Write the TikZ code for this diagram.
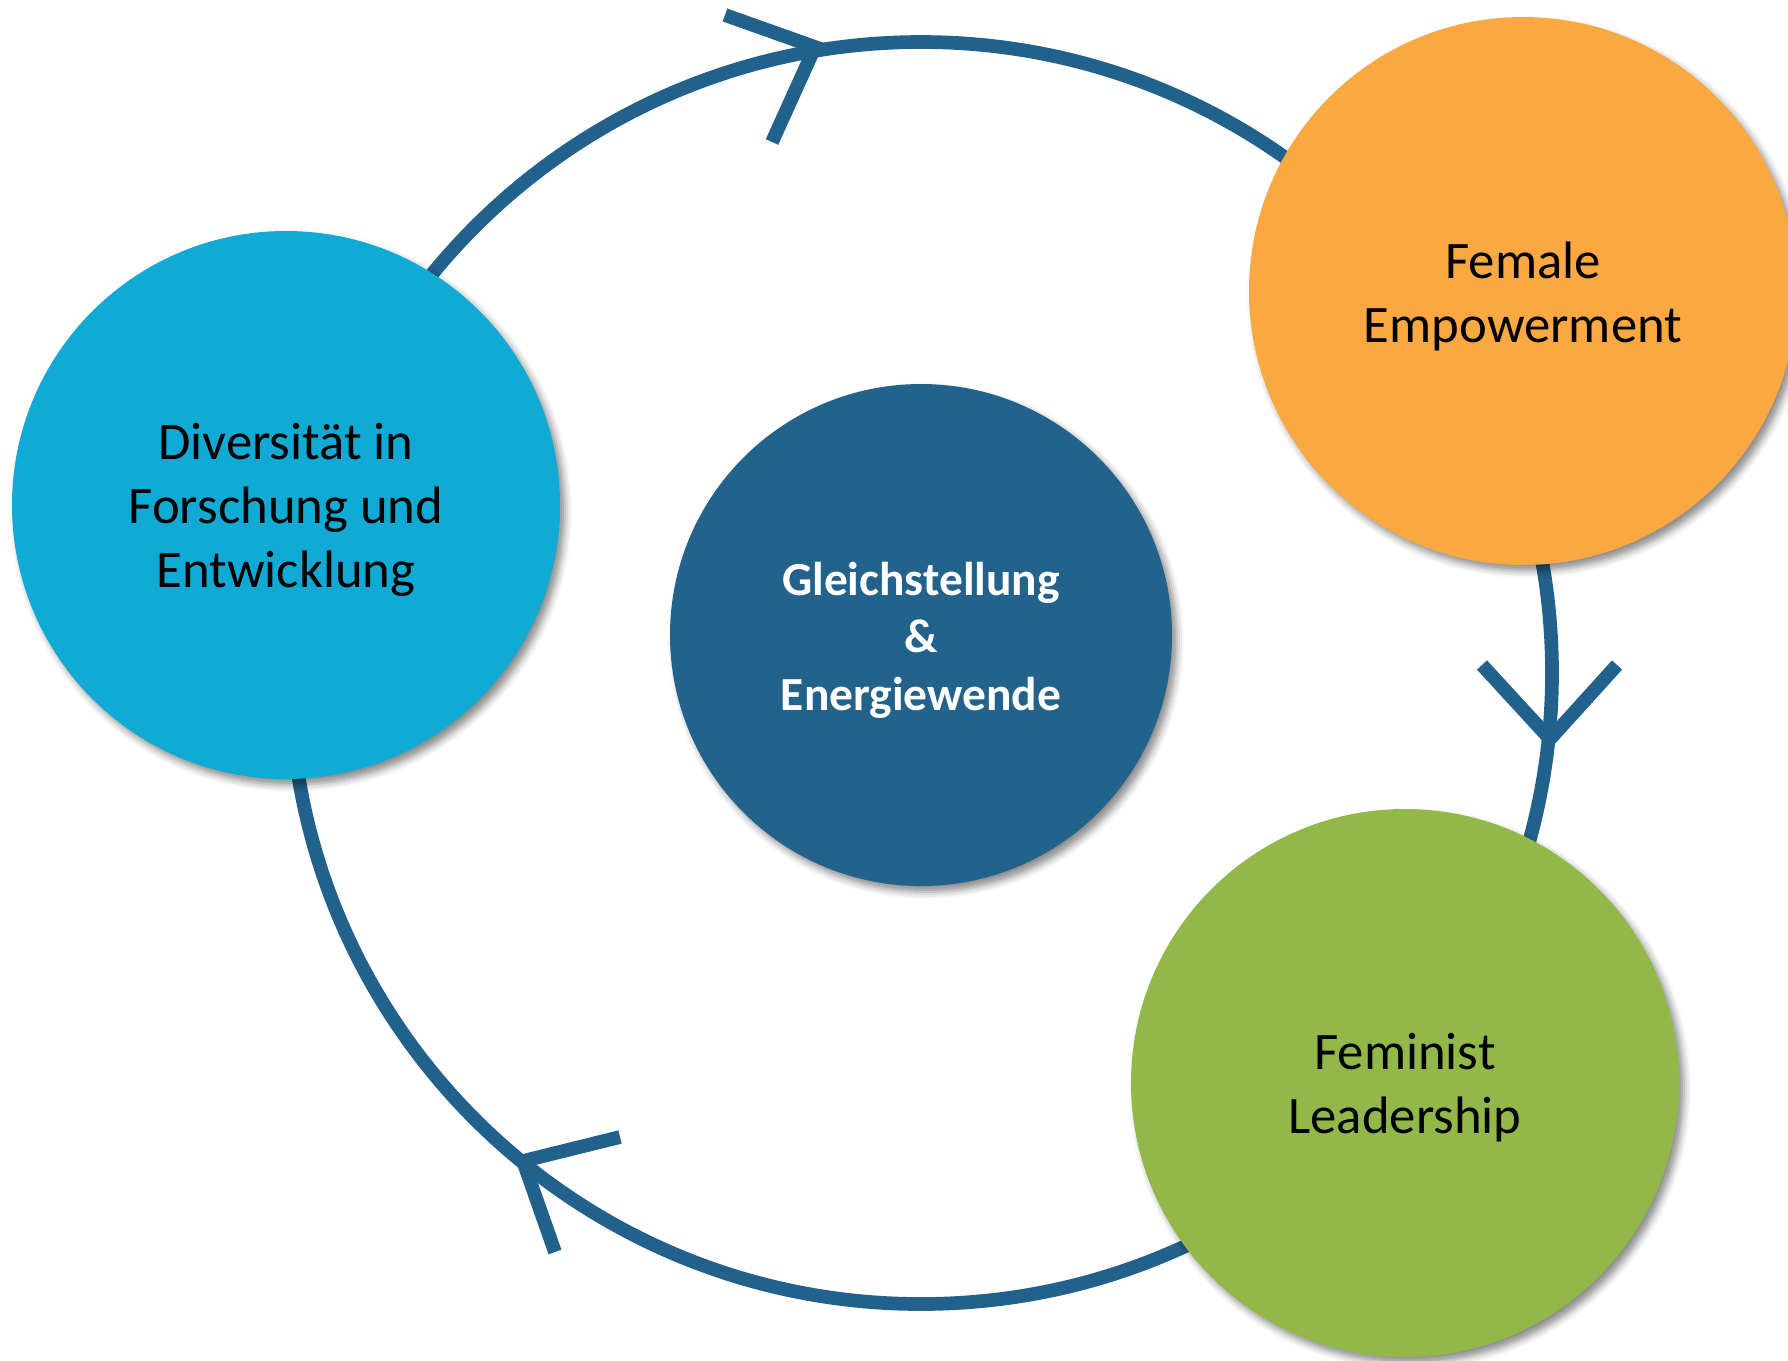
\documentclass[tikz,border=0pt]{standalone}
\usepackage{fontspec}
\setmainfont{Carlito}
\usepackage{xcolor}
\usepackage{tikz}
\usetikzlibrary{shadows.blur}

\definecolor{ringblue}{RGB}{33,97,139}
\definecolor{skyblue}{RGB}{16,170,212}
\definecolor{sunorange}{RGB}{249,168,66}
\definecolor{leafgreen}{RGB}{147,184,74}
\definecolor{deepblue}{RGB}{34,98,139}

\begin{document}
\begin{tikzpicture}[x=0.1mm,y=-0.1mm,
  bubble/.style={circle,minimum size=54.8mm,inner sep=0pt,
    blur shadow={shadow xshift=0.5mm,shadow yshift=-0.6mm,shadow blur radius=0.7mm,shadow opacity=45}},
  caption/.style={align=center,inner sep=0pt,yshift=-0.5mm,font=\fontsize{15}{18.2}\selectfont},
  ring/.style={draw=ringblue,line width=1.37mm},
  vhead/.style={ring,line cap=butt,line join=miter}]
\useasboundingbox (0,0) rectangle (1788,1360);
\coordinate (M) at (921,673);

\draw[ring] (M) circle[radius=631];

\draw[vhead] (725,15) -- (815,47) coordinate(tipTop) -- (772,142);
\draw[vhead] (1482,665) -- (1550,739) coordinate(tipRight) -- (1617,665);
\draw[vhead] (620,1137) -- (523,1161) coordinate(tipLeft) -- (555,1252);

\node[bubble,fill=skyblue] (diversity) at (286,505) {};
\node[bubble,fill=sunorange] (female) at (1523,291) {};
\node[bubble,fill=leafgreen] (feminist) at (1405,1083) {};
\node[bubble,fill=deepblue,minimum size=50.2mm] (equality) at (921,635) {};

\node[caption] (diversityText) at (diversity) {Diversität in\\Forschung und\\Entwicklung};
\node[caption] (femaleText) at (female) {Female\\Empowerment};
\node[caption] (feministText) at (feminist) {Feminist\\Leadership};
\node[caption,text=white,font=\bfseries\fontsize{13.5}{16.4}\selectfont] (equalityText) at (equality) {Gleichstellung\\\&\\Energiewende};
\end{tikzpicture}
\end{document}
